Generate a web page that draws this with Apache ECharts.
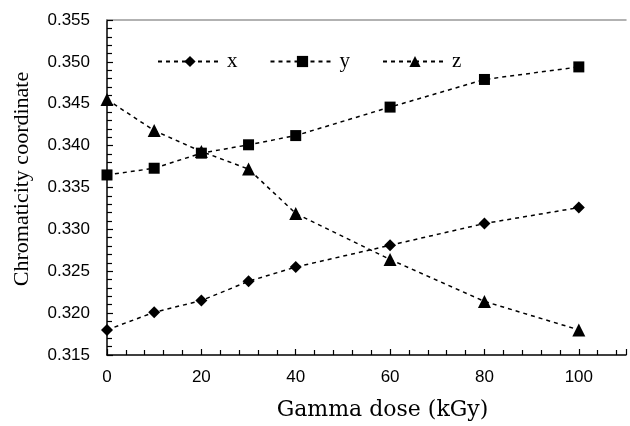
<!DOCTYPE html>
<html>
<head>
<meta charset="utf-8">
<script src="https://cdn.jsdelivr.net/npm/echarts@6/dist/echarts.min.js"></script>
<style>
  html, body { margin: 0; padding: 0; background: #fff; }
  #chart { width: 630px; height: 426px; }
</style>
</head>
<body>
<div id="chart"></div>
<script>
// Gamma dose (kGy)
var doses = [0, 10, 20, 30, 40, 60, 80, 100];

// Chromaticity coordinates
var xCoord = [0.3180, 0.3201, 0.3215, 0.3238, 0.3255, 0.3281, 0.3307, 0.3326];
var yCoord = [0.3365, 0.3373, 0.3391, 0.3401, 0.3412, 0.3446, 0.3479, 0.3494];
var zCoord = [0.3455, 0.3418, 0.3393, 0.3372, 0.3319, 0.3264, 0.3214, 0.3180];

var seriesNames = ['x', 'y', 'z'];
var seriesSymbols = ['diamond', 'rect', 'triangle'];

function pairs(vals) {
  var out = [];
  for (var i = 0; i < doses.length; i++) {
    out.push([doses[i], vals[i]]);
  }
  return out;
}

function makeSeries(name, vals, symbol, size) {
  return {
    name: name,
    type: 'line',
    data: pairs(vals),
    symbol: symbol,
    symbolSize: size,
    showAllSymbol: true,
    itemStyle: { color: '#000' },
    lineStyle: { color: '#000', width: 1.5, type: [4, 4] },
    z: 3
  };
}

var sans = 'Liberation Sans';

var myChart = echarts.init(document.getElementById('chart'));
var option = {
  backgroundColor: '#fff',
  animation: false,
  grid: { left: 107, right: 4, top: 20, bottom: 67 },
  legend: {
    left: 152,
    top: 46,
    itemWidth: 64,
    itemHeight: 14,
    itemGap: 32,
    data: seriesNames,
    textStyle: { fontFamily: 'Liberation Serif', fontSize: 21, color: '#000' }
  },
  xAxis: [{
    type: 'value',
    min: 0,
    max: 110,
    interval: 20,
    name: 'Gamma dose (kGy)',
    nameLocation: 'middle',
    nameGap: 44,
    nameTextStyle: { fontFamily: 'DejaVu Serif', fontSize: 22, color: '#000', padding: [0, 0, 0, 32] },
    axisLine: { lineStyle: { color: '#000', width: 1.5 } },
    axisTick: { inside: true, length: 6, lineStyle: { color: '#000', width: 1.2 } },
    minorTick: { show: true, splitNumber: 5, length: 5, lineStyle: { color: '#000', width: 1.2 } },
    axisLabel: {
      fontFamily: sans, fontSize: 17, color: '#000', margin: 14,
      formatter: function (v) { return v > 100 ? '' : String(v); }
    },
    splitLine: { show: false }
  }, {
    type: 'value',
    position: 'top',
    min: 0,
    max: 110,
    axisLine: { lineStyle: { color: '#999', width: 1.5 } },
    axisTick: { show: false },
    axisLabel: { show: false },
    splitLine: { show: false }
  }],
  yAxis: {
    type: 'value',
    min: 0.315,
    max: 0.355,
    interval: 0.005,
    name: 'Chromaticity coordinate',
    nameLocation: 'middle',
    nameGap: 74,
    nameTextStyle: { fontFamily: 'Liberation Serif', fontSize: 22, color: '#000', padding: [0, 0, 0, 17] },
    axisLine: { show: true, lineStyle: { color: '#000', width: 1.5 } },
    axisTick: { inside: true, length: 6, lineStyle: { color: '#000', width: 1.2 } },
    minorTick: { show: true, splitNumber: 5, length: 5, lineStyle: { color: '#000', width: 1.2 } },
    axisLabel: {
      fontFamily: sans, fontSize: 17, color: '#000', margin: 17,
      formatter: function (v) { return v.toFixed(3); }
    },
    splitLine: { show: false }
  },
  series: [
    makeSeries(seriesNames[0], xCoord, seriesSymbols[0], 12),
    makeSeries(seriesNames[1], yCoord, seriesSymbols[1], 11),
    makeSeries(seriesNames[2], zCoord, seriesSymbols[2], 13)
  ]
};
myChart.setOption(option);
</script>
</body>
</html>
